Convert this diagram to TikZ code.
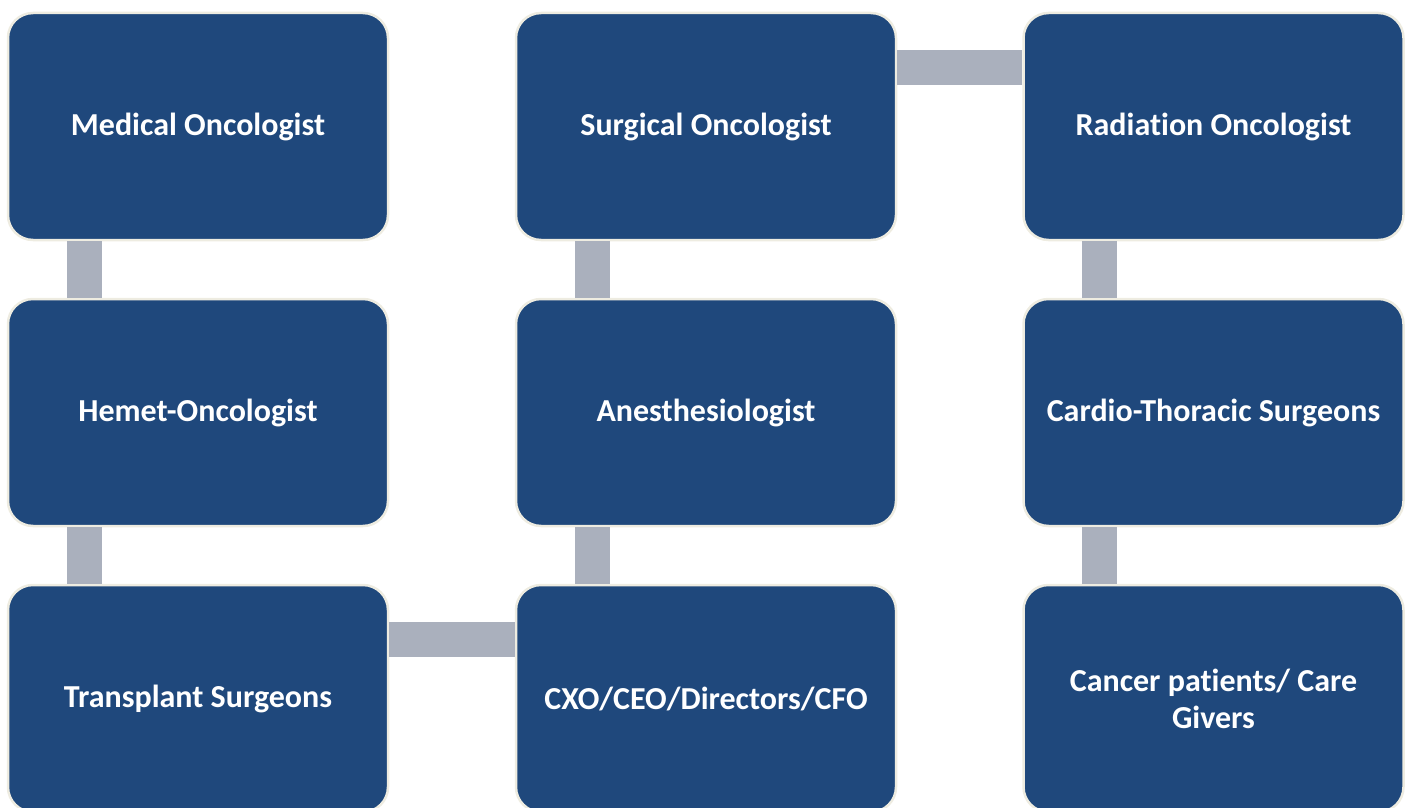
\documentclass[tikz,border=0pt]{standalone}
\usepackage{fontspec}
\setmainfont{Carlito}[Ligatures=NoCommon]
\definecolor{boxblue}{HTML}{1F487C}
\definecolor{boxrim}{HTML}{EEECE1}
\definecolor{bargrey}{HTML}{AAB0BD}
\begin{document}
\begin{tikzpicture}[x=1pt, y=-1pt,
  role/.style={draw=boxrim, line width=2.5pt, fill=boxblue, rounded corners=25pt,
    minimum width=380pt, minimum height=227pt, inner sep=0pt, align=center,
    text=white, font=\fontsize{32}{37}\selectfont\bfseries},
  bar/.style={draw=bargrey, line width=35pt}]
\useasboundingbox (0,0) rectangle (1409,808);
\node[role] (med) at (198, 126.5) {Medical Oncologist};
\node[role] (hem) at (198, 412.5) {Hemet-Oncologist};
\node[role] (tra) at (198, 698.5) {Transplant Surgeons};
\node[role] (sur) at (706, 126.5) {Surgical Oncologist};
\node[role] (ane) at (706, 412.5) {Anesthesiologist};
\node[role] (cxo) at (706, 698.5) {CXO/CEO/Directors/CFO};
\node[role] (rad) at (1213.5, 126.5) {Radiation Oncologist};
\node[role] (car) at (1213.5, 412.5) {Cardio-Thoracic Surgeons};
\node[role] (pat) at (1213.5, 698.5) {Cancer patients/ Care\\Givers};
\draw[bar] ([xshift=77.5pt]med.south west) -- ([xshift=77.5pt]hem.north west);
\draw[bar] ([xshift=77.5pt]hem.south west) -- ([xshift=77.5pt]tra.north west);
\draw[bar] ([yshift=-55.5pt]tra.north east) -- ([yshift=-55.5pt]cxo.north west);
\draw[bar] ([xshift=77.5pt]cxo.north west) -- ([xshift=77.5pt]ane.south west);
\draw[bar] ([xshift=77.5pt]ane.north west) -- ([xshift=77.5pt]sur.south west);
\draw[bar] ([yshift=-55.5pt]sur.north east) -- ([yshift=-55.5pt]rad.north west);
\draw[bar] ([xshift=77.5pt]rad.south west) -- ([xshift=77.5pt]car.north west);
\draw[bar] ([xshift=77.5pt]car.south west) -- ([xshift=77.5pt]pat.north west);
\end{tikzpicture}
\end{document}
